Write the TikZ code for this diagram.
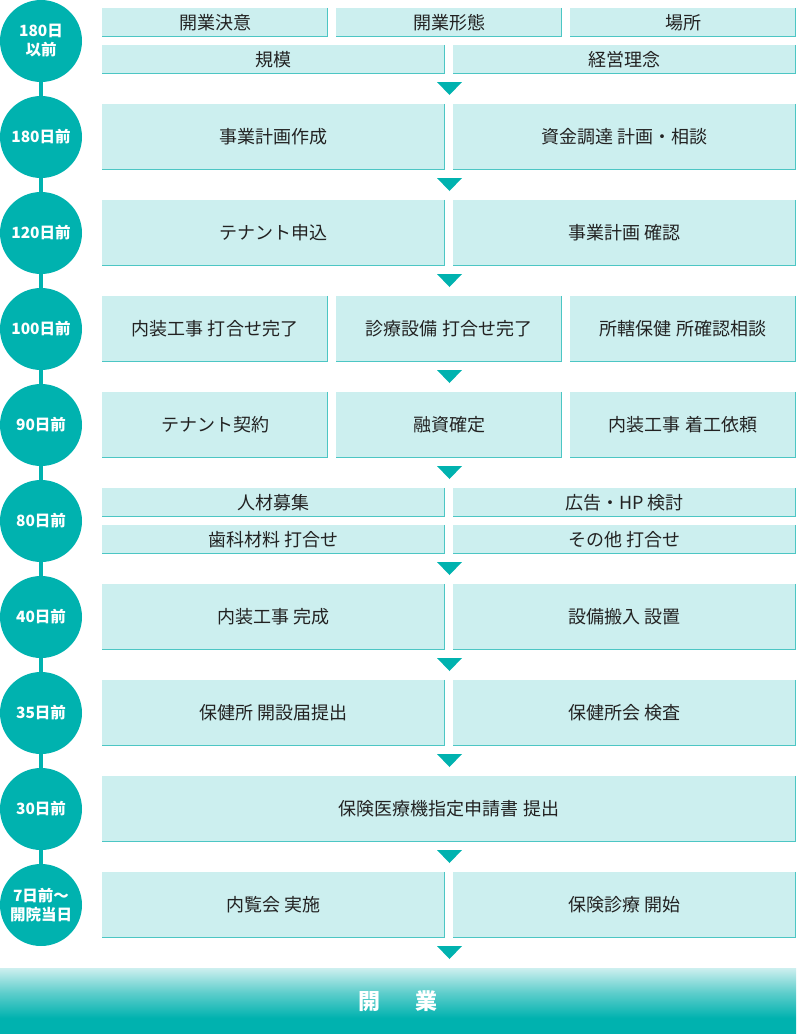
\documentclass[tikz,border=0pt]{standalone}
\usepackage{fontspec}
\newfontfamily\jp{Noto Sans CJK JP}
\usetikzlibrary{backgrounds}
\definecolor{tealc}{HTML}{00B2AF}
\definecolor{boxfill}{HTML}{CCEFEF}
\definecolor{bordc}{HTML}{4CC6C4}
\definecolor{txt}{HTML}{222222}
\definecolor{lightc}{HTML}{CDEFEF}
\definecolor{midc}{HTML}{5CCDCB}
\pgfdeclareverticalshading{barshade}{100bp}{color(0bp)=(tealc); color(37bp)=(tealc); color(56bp)=(midc); color(75bp)=(lightc); color(100bp)=(lightc)}
\newcommand\tlbox[6]{%
  \node[box, minimum width=#4pt, minimum height=#5pt] (#1) at (#2,#3) {#6};
  \draw[bordline] ([xshift=-0.5pt]#1.north east) -- ([xshift=-0.5pt,yshift=0.5pt]#1.south east) -- ([yshift=0.5pt]#1.south west);}
\newcommand\tltri[1]{\fill[tealc] (437,#1) -- (462,#1) -- (449.5,#1+13) -- cycle;}
\begin{document}
\begin{tikzpicture}[x=1pt,y=-1pt,
  box/.style={rectangle, fill=boxfill, inner sep=0pt, text=txt, font=\jp\fontsize{18}{20}\selectfont},
  bordline/.style={draw=bordc, line width=1pt},
  circ/.style={circle, fill=tealc, minimum size=82pt, inner sep=0pt, text=white, align=center, font=\jp\bfseries\fontsize{15.5}{19}\selectfont},
  bartext/.style={text=white, font=\jp\bfseries\fontsize{22}{24}\selectfont}]
\useasboundingbox (0,0) rectangle (796,1034);
% circles
\node[circ] (c1) at (41,41) {180日\\以前};
\node[circ] (c2) at (41,137) {180日前};
\node[circ] (c3) at (41,233) {120日前};
\node[circ] (c4) at (41,329) {100日前};
\node[circ] (c5) at (41,425) {90日前};
\node[circ] (c6) at (41,521) {80日前};
\node[circ] (c7) at (41,617) {40日前};
\node[circ] (c8) at (41,713) {35日前};
\node[circ] (c9) at (41,809) {30日前};
\node[circ] (c10) at (41,905) {7日前～\\開院当日};
\begin{scope}[on background layer]
\draw[tealc, line width=4pt] (c1.center) -- (c10.center);
\end{scope}
% row 1
\tlbox{r1a}{215}{22.5}{226}{29}{開業決意}
\tlbox{r1b}{449}{22.5}{226}{29}{開業形態}
\tlbox{r1c}{683}{22.5}{226}{29}{場所}
\tlbox{r1d}{273.5}{59.5}{343}{29}{規模}
\tlbox{r1e}{624.5}{59.5}{343}{29}{経営理念}
\tltri{82}
% row 2
\tlbox{r2a}{273.5}{137}{343}{66}{事業計画作成}
\tlbox{r2b}{624.5}{137}{343}{66}{資金調達 計画・相談}
\tltri{178}
% row 3
\tlbox{r3a}{273.5}{233}{343}{66}{テナント申込}
\tlbox{r3b}{624.5}{233}{343}{66}{事業計画 確認}
\tltri{274}
% row 4
\tlbox{r4a}{215}{329}{226}{66}{内装工事 打合せ完了}
\tlbox{r4b}{449}{329}{226}{66}{診療設備 打合せ完了}
\tlbox{r4c}{683}{329}{226}{66}{所轄保健 所確認相談}
\tltri{370}
% row 5
\tlbox{r5a}{215}{425}{226}{66}{テナント契約}
\tlbox{r5b}{449}{425}{226}{66}{融資確定}
\tlbox{r5c}{683}{425}{226}{66}{内装工事 着工依頼}
\tltri{466}
% row 6
\tlbox{r6a}{273.5}{502.5}{343}{29}{人材募集}
\tlbox{r6b}{624.5}{502.5}{343}{29}{広告・HP 検討}
\tlbox{r6c}{273.5}{539.5}{343}{29}{歯科材料 打合せ}
\tlbox{r6d}{624.5}{539.5}{343}{29}{その他 打合せ}
\tltri{562}
% row 7
\tlbox{r7a}{273.5}{617}{343}{66}{内装工事 完成}
\tlbox{r7b}{624.5}{617}{343}{66}{設備搬入 設置}
\tltri{658}
% row 8
\tlbox{r8a}{273.5}{713}{343}{66}{保健所 開設届提出}
\tlbox{r8b}{624.5}{713}{343}{66}{保健所会 検査}
\tltri{754}
% row 9
\tlbox{r9a}{449}{809}{694}{66}{保険医療機指定申請書 提出}
\tltri{850}
% row 10
\tlbox{r10a}{273.5}{905}{343}{66}{内覧会 実施}
\tlbox{r10b}{624.5}{905}{343}{66}{保険診療 開始}
\tltri{946}
% bottom bar
\shade[shading=barshade] (0,968) rectangle (796,1034);
\node[bartext] (open) at (398,1001) {開\hspace{36pt}業};
\end{tikzpicture}
\end{document}
